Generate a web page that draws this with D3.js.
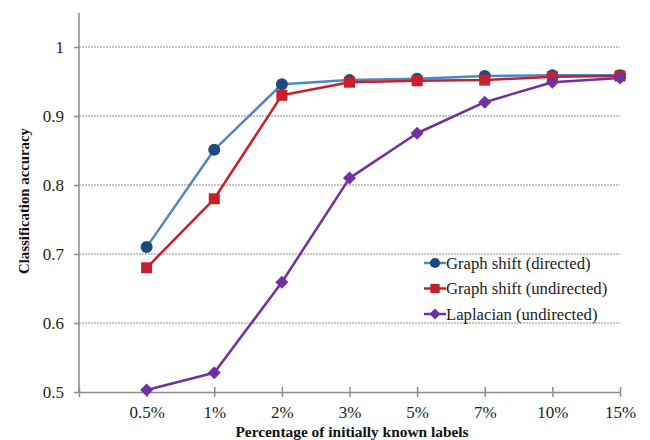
<!DOCTYPE html>
<html><head><meta charset="utf-8">
<script src="https://cdn.jsdelivr.net/npm/d3@7"></script>
<style>body{margin:0;background:#fff}svg{display:block}svg text{font-family:"Liberation Serif","Times New Roman",Times,"DejaVu Serif",serif !important}</style>
</head><body><svg id="c" width="650" height="440"></svg>
<script>
const categories = ["0.5%","1%","2%","3%","5%","7%","10%","15%"];
const directed   = [0.710,0.851,0.946,0.952,0.954,0.958,0.959,0.959];
const undirected = [0.680,0.780,0.930,0.949,0.951,0.952,0.957,0.958];
const laplacian  = [0.503,0.528,0.659,0.810,0.875,0.920,0.949,0.955];
const yTicks = [0.5,0.6,0.7,0.8,0.9,1];
const seriesNames = ["Graph shift (directed)","Graph shift (undirected)","Laplacian (undirected)"];

const FF = '"Liberation Serif","Times New Roman",Times,serif';
const svg = d3.select("#c");
const L = 79, R = 620, T = 13, B = 392;
const x = d3.scalePoint().domain(["_"].concat(categories)).range([L, R]);
const y = d3.scaleLinear().domain([0.5, 1 + (47-13)/690]).range([B, T]);

// gridlines
svg.append("g").selectAll("line").data(yTicks.filter(d=>d>0.5)).join("line")
  .attr("x1", L).attr("x2", R).attr("y1", d=>y(d)).attr("y2", d=>y(d))
  .attr("stroke", "#8a8a8a").attr("stroke-width", 1).attr("stroke-dasharray", "2,1");

// y axis
const ya = svg.append("g").attr("transform", `translate(${L},0)`)
  .call(d3.axisLeft(y).tickValues(yTicks).tickFormat(d=>d===1?"1":d3.format(".1f")(d)).tickSize(5).tickPadding(10));
ya.select(".domain").attr("d", `M0,${T}V${B}`);
// x axis
const xa = svg.append("g").attr("transform", `translate(0,${B})`)
  .call(d3.axisBottom(x).tickFormat(d=>d==="_"?"":d).tickSize(5).tickSizeOuter(0).tickPadding(9));
xa.selectAll(".tick line").attr("y1", -5);
[ya, xa].forEach(a=>{
  a.attr("font-family", FF).attr("font-size", 17);
  a.selectAll(".domain").attr("stroke", "#8c8c8c").attr("stroke-width", 1.5);
  a.selectAll(".tick line").attr("stroke", "#8c8c8c").attr("stroke-width", 1.5);
  a.selectAll("text").attr("fill", "#222").attr("font-family", FF).style("font-size", "17px");
});

const series = [
  {name: seriesNames[0], vals: directed, line: "#4f86c6", mark: "#1c4a7e", shape: "circle"},
  {name: seriesNames[1], vals: undirected, line: "#c8202b", mark: "#c8202b", shape: "square"},
  {name: seriesNames[2], vals: laplacian, line: "#7030a0", mark: "#7030a0", shape: "diamond"}
];
function marker(g, s, cx, cy, scale) {
  scale = scale || 1;
  if (s.shape === "circle") g.append("circle").attr("cx", cx).attr("cy", cy).attr("r", 6*scale).attr("fill", s.mark);
  else if (s.shape === "square") g.append("rect").attr("x", cx-5.5*scale).attr("y", cy-5.5*scale).attr("width", 11*scale).attr("height", 11*scale).attr("fill", s.mark);
  else g.append("path").attr("d", `M${cx},${cy-6.5*scale}L${cx+6.5*scale},${cy}L${cx},${cy+6.5*scale}L${cx-6.5*scale},${cy}Z`).attr("fill", s.mark);
}
const line = d3.line().x((d,i)=>x(categories[i])).y(d=>y(d));
series.forEach(s=>{
  const g = svg.append("g");
  g.append("path").datum(s.vals).attr("d", line).attr("fill","none").attr("stroke", s.line).attr("stroke-width", 2.5).attr("stroke-linejoin","round");
  s.vals.forEach((v,i)=>marker(g, s, x(categories[i]), y(v)));
});

// legend
const lg = svg.append("g");
series.forEach((s,i)=>{
  const ly = 263 + i*25.5;
  lg.append("line").attr("x1", 424).attr("x2", 446).attr("y1", ly).attr("y2", ly).attr("stroke", s.line).attr("stroke-width", 2.5);
  marker(lg, s, 435, ly, 0.85);
  lg.append("text").attr("x", 446).attr("y", ly+5.5).attr("fill","#222").attr("font-family", FF).style("font-size","16.7px").text(s.name);
});

// titles
svg.append("text").attr("transform", "translate(29,201) rotate(-90)").attr("text-anchor","middle").attr("font-family", FF)
  .style("font-size","14.8px").style("font-weight","bold").attr("fill","#111").text("Classification accuracy");
svg.append("text").attr("x", 352).attr("y", 437).attr("text-anchor","middle").attr("font-family", FF)
  .style("font-size","15.4px").style("font-weight","bold").attr("fill","#111").text("Percentage of initially known labels");
</script></body></html>
